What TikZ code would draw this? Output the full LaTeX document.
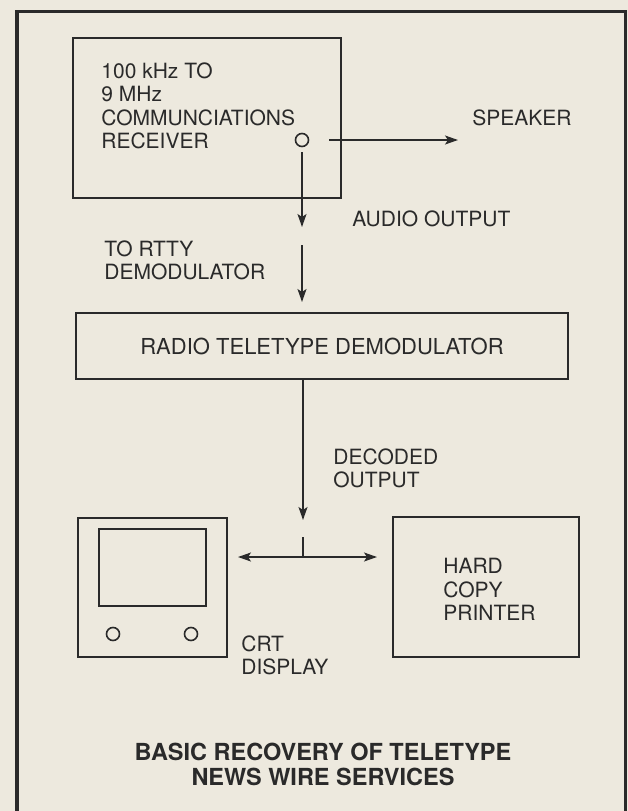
\documentclass[tikz,border=0pt]{standalone}
\usepackage{fontspec}
\setmainfont{TeX Gyre Heros}
\usepackage{xcolor}
\usepackage{tikz}
\usetikzlibrary{arrows.meta, positioning}
\definecolor{paper}{RGB}{237,233,222}
\definecolor{ink}{RGB}{42,42,42}

\begin{document}
\begin{tikzpicture}[x=0.5pt, y=-0.5pt,
        >={Stealth[length=6.5pt,width=4.5pt,inset=1.5pt]},
        unit/.style={draw=ink, line width=1pt, inner sep=0pt},
        txt/.style={text=ink, inner sep=0pt, align=left, font=\fontsize{10.5}{11.75}\selectfont},
        dial/.style={circle, draw=ink, line width=0.8pt, inner sep=0pt, minimum size=6.5pt},
        wire/.style={draw=ink, line width=0.8pt}]
        \fill[paper] (0,0) rectangle (628,811);
        \useasboundingbox (0,0) rectangle (628,811);
        \draw[ink, line width=1.5pt] (17,811) -- (17,11) -- (625,11) -- (625,811);
%
        \node[unit, minimum width=134pt, minimum height=80pt] (rcv) at (207,118) {};
        \node[txt, anchor=north west] (rcvtxt) at (101,62) {100 kHz TO\\9 MHz\\COMMUNCIATIONS\\RECEIVER};
        \node[dial] (knob) at (302,140) {};
        \node[txt, anchor=west] (spk) at (472,118) {SPEAKER};
        \node[txt, anchor=west] (audlbl) at (352,219) {AUDIO OUTPUT};
        \node[txt, anchor=north west] (rttylbl) at (104,240) {TO RTTY\\DEMODULATOR};
        \node[unit, txt, font=\fontsize{11}{12}\selectfont, minimum width=246pt, minimum height=33pt] (demod) at (322,346) {RADIO TELETYPE DEMODULATOR};
        \node[txt, anchor=north west] (declbl) at (333,448) {DECODED\\OUTPUT};
%
        \node[unit, minimum width=74.5pt, minimum height=69.5pt] (crt) at (152.5,587.5) {};
        \node[unit, minimum width=53.5pt, minimum height=38.5pt, below=5.5pt of crt.north] (screen) {};
        \node[dial] (dialL) at (113,634) {};
        \node[dial] (dialR) at (191,634) {};
        \node[txt, anchor=north west] (crtlbl) at (241,635) {CRT\\DISPLAY};
        \node[unit, minimum width=93pt, minimum height=70pt] (prn) at (486,587) {};
        \node[txt, anchor=north west] (prnlbl) at (443,558) {HARD\\COPY\\PRINTER};
        \node[text=ink, align=center, font=\bfseries\fontsize{11.75}{12.5}\selectfont] (title) at (323,764) {BASIC RECOVERY OF TELETYPE\\NEWS WIRE SERVICES};
%
        \coordinate (audtip) at (302,227);
        \coordinate (rtty) at (302,245);
        \coordinate (dectip) at (303,520);
        \coordinate (tee) at (303,537);
        \coordinate (junc) at (303,557);
        \draw[wire, ->, shorten <=10pt, shorten >=7pt] (knob) -- (knob -| spk.west);
        \draw[wire, ->, shorten <=2.5pt] (knob) -- (audtip);
        \draw[wire, ->, shorten >=5pt] (rtty) -- (rtty |- demod.north);
        \draw[wire, ->] (dectip |- demod.south) -- (dectip);
        \draw[wire] (tee) -- (junc);
        \draw[wire, ->, shorten >=5pt] (junc) -- (junc -| crt.east);
        \draw[wire, ->, shorten >=7.5pt] (junc) -- (junc -| prn.west);
\end{tikzpicture}
\end{document}
